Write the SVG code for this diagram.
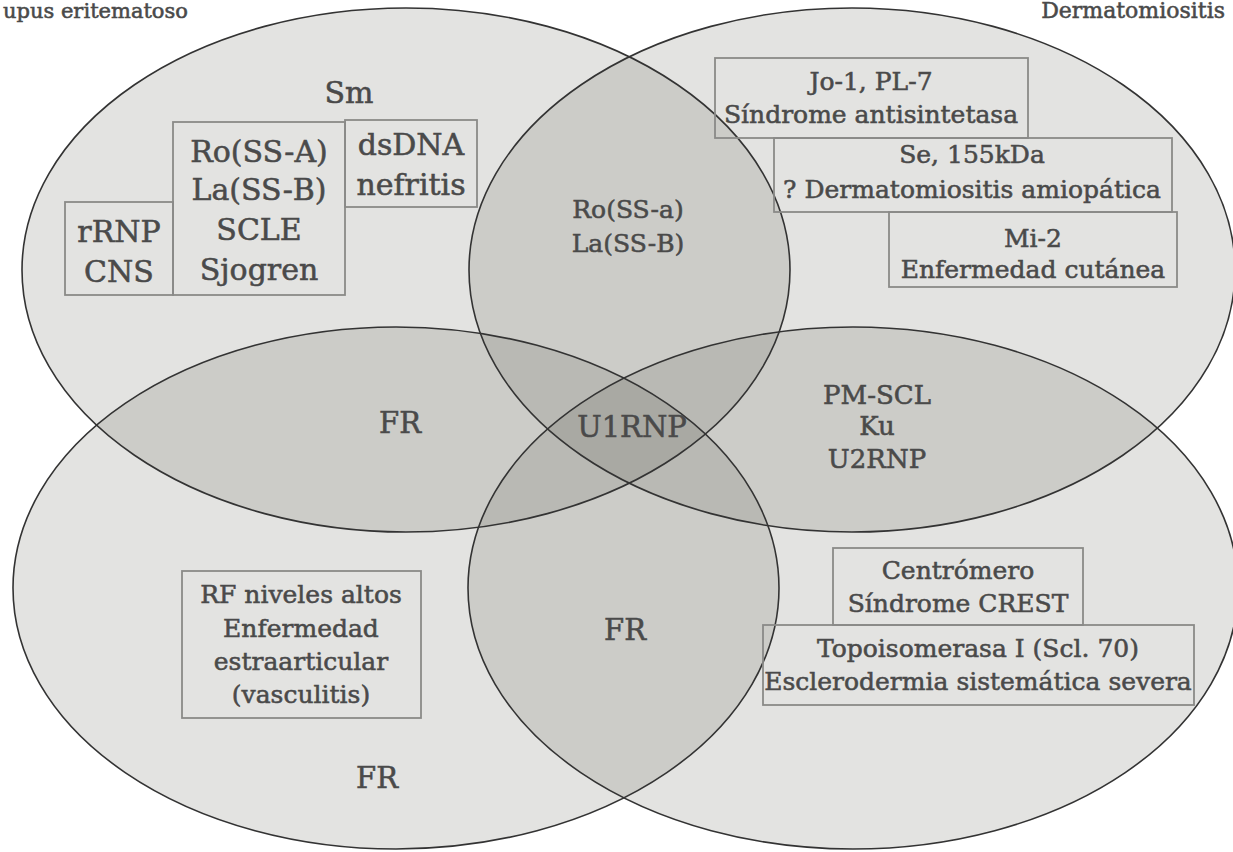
<svg xmlns="http://www.w3.org/2000/svg" xmlns:xlink="http://www.w3.org/1999/xlink" width="1233" height="852" viewBox="0 0 1233 852">
<style>
.set{fill:#62625a;fill-opacity:0.18;stroke:none}
.outline{fill:none;stroke:#333;stroke-width:1.6}
.box{fill:none;stroke:#8a8a88;stroke-width:1.8}
text{font-family:"DejaVu Serif","Liberation Serif",serif;fill:#4a4a4a;stroke:#4a4a4a;stroke-width:0.55;text-anchor:middle}
.f30{font-size:30px}
.f29{font-size:29px}
.f26{font-size:26px}
.f25{font-size:25px}
.f24{font-size:25px}
.lbl{font-size:21px;text-anchor:start}
</style>
<defs>
<ellipse id="eA" cx="406" cy="270" rx="384" ry="262"/>
<ellipse id="eB" cx="852" cy="270" rx="383" ry="262"/>
<ellipse id="eC" cx="396" cy="588" rx="383" ry="261"/>
<ellipse id="eD" cx="853" cy="588" rx="385" ry="261"/>
</defs>
<rect width="1233" height="852" fill="#ffffff"/>
<g id="lupus"><use xlink:href="#eA" class="set"/></g>
<g id="dermatomiositis"><use xlink:href="#eB" class="set"/></g>
<g id="artritis"><use xlink:href="#eC" class="set"/></g>
<g id="esclerodermia"><use xlink:href="#eD" class="set"/></g>
<g id="outlines">
<use xlink:href="#eA" class="outline"/>
<use xlink:href="#eB" class="outline"/>
<use xlink:href="#eC" class="outline"/>
<use xlink:href="#eD" class="outline"/>
</g>
<g id="titles">
<text class="lbl" x="3" y="18">upus eritematoso</text>
<text class="lbl" x="1225" y="18" style="font-size:22px;text-anchor:end">Dermatomiositis</text>
</g>
<g id="sm"><text class="f30" x="349" y="103">Sm</text></g>
<g id="rrnp">
<rect class="box" x="65" y="202" width="108" height="93"/>
<text class="f30" x="119" y="242">rRNP</text>
<text class="f30" x="119" y="282">CNS</text>
</g>
<g id="ro">
<rect class="box" x="173" y="122" width="172" height="173"/>
<text class="f30" x="259" y="162">Ro(SS-A)</text>
<text class="f30" x="259" y="200">La(SS-B)</text>
<text class="f30" x="259" y="240">SCLE</text>
<text class="f30" x="259" y="280">Sjogren</text>
</g>
<g id="dsdna">
<rect class="box" x="345" y="120" width="132" height="87"/>
<text class="f30" x="411" y="155">dsDNA</text>
<text class="f30" x="411" y="195">nefritis</text>
</g>
<g id="ro-la">
<text class="f25" x="628" y="218">Ro(SS-a)</text>
<text class="f25" x="628" y="252">La(SS-B)</text>
</g>
<g id="jo1">
<rect class="box" x="715" y="58" width="313" height="80"/>
<text class="f24" x="871" y="90">Jo-1, PL-7</text>
<text class="f24" x="871" y="123">Síndrome antisintetasa</text>
</g>
<g id="se">
<rect class="box" x="774" y="138" width="398" height="74"/>
<text class="f24" x="972" y="163">Se, 155kDa</text>
<text class="f24" x="972" y="198">? Dermatomiositis amiopática</text>
</g>
<g id="mi2">
<rect class="box" x="889" y="212" width="288" height="75"/>
<text class="f24" x="1033" y="247">Mi-2</text>
<text class="f24" x="1033" y="278">Enfermedad cutánea</text>
</g>
<g id="fr-left"><text class="f29" x="400" y="433">FR</text></g>
<g id="u1rnp"><text class="f29" x="632" y="437">U1RNP</text></g>
<g id="pmscl">
<text class="f26" x="877" y="404">PM-SCL</text>
<text class="f26" x="877" y="435">Ku</text>
<text class="f26" x="877" y="468">U2RNP</text>
</g>
<g id="rf">
<rect class="box" x="182" y="571" width="239" height="147"/>
<text class="f25" x="301" y="603">RF niveles altos</text>
<text class="f25" x="301" y="637">Enfermedad</text>
<text class="f25" x="301" y="670">estraarticular</text>
<text class="f25" x="301" y="703">(vasculitis)</text>
</g>
<g id="fr-center"><text class="f29" x="625" y="640">FR</text></g>
<g id="fr-bottom"><text class="f29" x="377" y="788">FR</text></g>
<g id="centromero">
<rect class="box" x="833" y="548" width="250" height="77"/>
<text class="f24" x="958" y="579">Centrómero</text>
<text class="f24" x="958" y="612">Síndrome CREST</text>
</g>
<g id="topo">
<rect class="box" x="763" y="625" width="431" height="80"/>
<text class="f24" x="978" y="657">Topoisomerasa I (Scl. 70)</text>
<text class="f24" x="978" y="690">Esclerodermia sistemática severa</text>
</g>
</svg>
